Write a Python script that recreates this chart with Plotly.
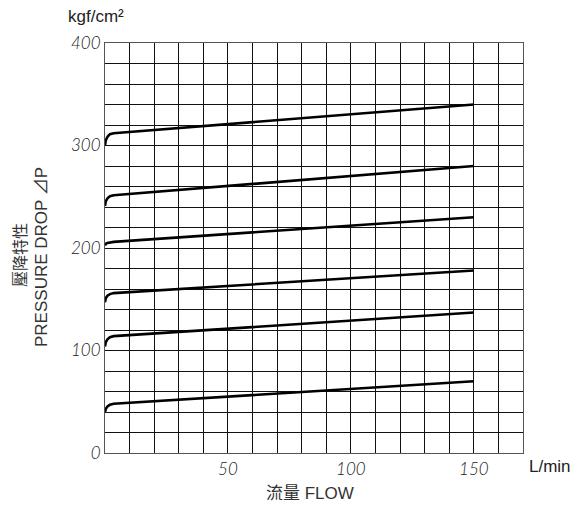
import plotly.graph_objects as go

# Flow (L/min) sample points: knee region near 0 then straight to 150
x_flow = [0, 0.3, 1, 2, 3.5, 150]

# Pressure drop curves (kgf/cm2)
p_300 = [300, 305, 308.5, 311, 312, 340]
p_250 = [241, 245.5, 248.5, 250.5, 251.5, 280]
p_200 = [202.5, 204, 205, 205.5, 206, 230]
p_150 = [147, 151, 153.5, 155, 156, 178]
p_110 = [104, 108, 111, 113, 114, 137]
p_40 = [40, 43, 45.5, 47, 48, 70]

curves = [p_300, p_250, p_200, p_150, p_110, p_40]

x_tickvals = [50, 100, 150]
x_ticktext = ["50", "100", "150"]
y_tickvals = [0, 100, 200, 300, 400]
y_ticktext = ["0", "100", "200", "300", "400"]

fig = go.Figure()
for c in curves:
    fig.add_trace(go.Scatter(x=x_flow, y=c, mode="lines",
                             line=dict(color="black", width=2.6),
                             showlegend=False, hoverinfo="skip"))

W, H = 571, 506
L, R, T, B = 105, 48, 43, 53
pw, ph = W - L - R, H - T - B

def px(xp):
    return (xp - L) / pw

def py(yp):
    return (H - B - yp) / ph

grid_col = "#111"
tick_font = dict(family="Lato, Open Sans, sans-serif", size=17, color="#1a1a1a",
                 style="italic", weight=300)

fig.update_layout(
    width=W, height=H,
    margin=dict(l=L, r=R, t=T, b=B),
    paper_bgcolor="white", plot_bgcolor="white",
    xaxis=dict(range=[0, 170], tickmode="array", tickvals=x_tickvals, ticktext=x_ticktext,
               showgrid=True, gridcolor=grid_col, gridwidth=1.2,
               minor=dict(dtick=10, tick0=0, showgrid=True, gridcolor=grid_col, gridwidth=1.2),
               showline=True, linecolor="#555", linewidth=1.2, mirror=True,
               ticks="", zeroline=False, tickfont=tick_font, fixedrange=True),
    yaxis=dict(range=[0, 400], tickmode="array", tickvals=y_tickvals, ticktext=y_ticktext,
               showgrid=True, gridcolor=grid_col, gridwidth=1.2,
               minor=dict(dtick=20, tick0=0, showgrid=True, gridcolor=grid_col, gridwidth=1.2),
               showline=True, linecolor="#555", linewidth=1.2, mirror=True,
               ticks="", zeroline=False, tickfont=tick_font, fixedrange=True),
)

label_font = dict(family="Liberation Sans, Arial, sans-serif", size=17, color="#222")
cjk_font = dict(family="Liberation Sans, Noto Sans CJK TC, sans-serif", size=17, color="#333")

fig.add_annotation(text="kgf/cm²", xref="paper", yref="paper", x=px(66), y=py(17),
                   xanchor="left", yanchor="middle", showarrow=False, font=label_font)
fig.add_annotation(text="L/min", xref="paper", yref="paper", x=px(527), y=py(466),
                   xanchor="left", yanchor="middle", showarrow=False, font=label_font)
fig.add_annotation(text="流量 FLOW", xref="paper", yref="paper", x=px(310), y=py(493),
                   xanchor="center", yanchor="middle", showarrow=False, font=cjk_font)
fig.add_annotation(text="壓降特性", xref="paper", yref="paper", x=px(19), y=py(255),
                   xanchor="center", yanchor="middle", textangle=-90, showarrow=False,
                   font=dict(family="Noto Sans CJK TC, sans-serif", size=16, color="#333"))
fig.add_annotation(text="PRESSURE DROP ⊿P", xref="paper", yref="paper", x=px(41), y=py(257),
                   xanchor="center", yanchor="middle", textangle=-90, showarrow=False,
                   font=cjk_font)

fig.write_html("out.html", config={"displayModeBar": False},
               post_script="document.body.style.margin='0px';")
